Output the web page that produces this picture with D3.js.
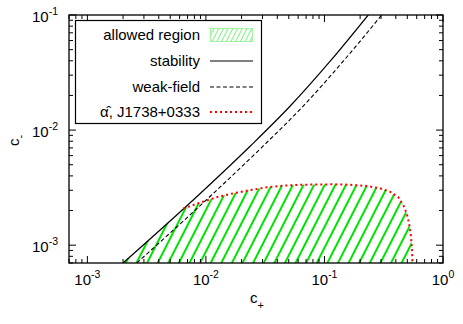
<!DOCTYPE html>
<html>
<head>
<meta charset="utf-8">
<script src="https://cdn.jsdelivr.net/npm/d3@7/dist/d3.min.js"></script>
<style>
  body { margin: 0; background: #fff; }
  svg { display: block; }
  text { font-family: "Liberation Sans", Arial, Helvetica, sans-serif; fill: #000; }
</style>
</head>
<body>
<svg id="chart" width="463" height="324"></svg>
<script>
// stability line
var stabCp = [0.00200, 0.00891, 0.0236, 0.0512, 0.1113, 0.234];
var stabCm = [0.00070, 0.00280, 0.00724, 0.0161, 0.0395, 0.100];

// weak-field line
var weakCp = [0.00261, 0.01148, 0.0303, 0.0659, 0.1434, 0.304];
var weakCm = [0.00070, 0.00280, 0.00724, 0.0161, 0.0395, 0.100];

// alpha-hat J1738+0333 bound
var alphaCp = [0.00644, 0.00891, 0.01233, 0.0170, 0.0236, 0.0326, 0.0450, 0.0622, 0.119, 0.164,
	0.227, 0.294, 0.357, 0.420, 0.462, 0.494, 0.520, 0.537, 0.548, 0.551, 0.552];
var alphaCm = [0.00208, 0.00234, 0.00261, 0.00282, 0.00301, 0.00318, 0.00329, 0.00335, 0.00338, 0.00335,
	0.00327, 0.00312, 0.00292, 0.00261, 0.00223, 0.00189, 0.00150, 0.00119, 0.000908, 0.000743, 0.00070];

var xDomain = [7e-4, 1];
var yDomain = [7e-4, 0.1];
var xMajor = [1e-3, 1e-2, 1e-1, 1];
var xMajorExp = ["-3", "-2", "-1", "0"];
var yMajor = [1e-3, 1e-2, 1e-1];
var yMajorExp = ["-3", "-2", "-1"];

var legendLabels = ["allowed region", "stability", "weak-field", "\u03b1\u0302, J1738+0333"];

var svg = d3.select("#chart");
var pL = 69, pR = 443, pT = 15, pB = 263;

var x = d3.scaleLog().domain(xDomain).range([pL, pR]);
var y = d3.scaleLog().domain(yDomain).range([pB, pT]);

var defs = svg.append("defs");
defs.append("clipPath").attr("id", "plotclip")
	.append("rect")
	.attr("x", pL).attr("y", pT)
	.attr("width", pR - pL).attr("height", pB - pT);

var hatch = defs.append("pattern").attr("id", "hatch")
	.attr("patternUnits", "userSpaceOnUse")
	.attr("width", 9.45).attr("height", 20)
	.attr("patternTransform", "rotate(27)");
hatch.append("line")
	.attr("x1", 4.7).attr("x2", 4.7).attr("y1", -1).attr("y2", 21)
	.style("stroke", "#00e000").style("stroke-width", 2);

var hatchSmall = defs.append("pattern").attr("id", "hatchSmall")
	.attr("patternUnits", "userSpaceOnUse")
	.attr("width", 4.2).attr("height", 20)
	.attr("patternTransform", "rotate(27)");
hatchSmall.append("line")
	.attr("x1", 2).attr("x2", 2).attr("y1", -1).attr("y2", 21)
	.style("stroke", "#7cf07c").style("stroke-width", 1);

function zipPts(a, b) {
	return a.map(function (d, i) { return [d, b[i]]; });
}

var line = d3.line()
	.x(function (d) { return x(d[0]); })
	.y(function (d) { return y(d[1]); });
var smooth = d3.line()
	.x(function (d) { return x(d[0]); })
	.y(function (d) { return y(d[1]); })
	.curve(d3.curveMonotoneX);

// allowed region: under stability line up to the alpha bound, then under alpha curve
var region = [];
stabCp.forEach(function (d, i) {
	if (d < alphaCp[0]) region.push([d, stabCm[i]]);
});
region = region.concat(zipPts(alphaCp, alphaCm));
region.push([alphaCp[alphaCp.length - 1], yDomain[0] * 0.98]);
region.push([stabCp[0], yDomain[0] * 0.98]);

var plot = svg.append("g").attr("clip-path", "url(#plotclip)");

plot.append("path")
	.attr("d", line(region) + "Z")
	.style("fill", "url(#hatch)")
	.style("stroke", "none");

plot.append("path")
	.attr("d", smooth(zipPts(stabCp, stabCm)))
	.style("fill", "none").style("stroke", "#000").style("stroke-width", 1.2);

plot.append("path")
	.attr("d", smooth(zipPts(weakCp, weakCm)))
	.style("fill", "none").style("stroke", "#000").style("stroke-width", 1.1)
	.style("stroke-dasharray", "4,2.5");

plot.append("path")
	.attr("d", line(zipPts(alphaCp, alphaCm)))
	.style("fill", "none").style("stroke", "#ff0000").style("stroke-width", 2)
	.style("stroke-dasharray", "2,3");

// ticks on all four sides, gnuplot style (inward)
var axes = svg.append("g").style("stroke", "#000").style("stroke-width", 1);
x.ticks().forEach(function (t) {
	var major = xMajor.some(function (m) { return Math.abs(m - t) / m < 1e-6; });
	var len = major ? 7 : 4;
	axes.append("line").attr("x1", x(t)).attr("x2", x(t)).attr("y1", pB).attr("y2", pB - len);
	axes.append("line").attr("x1", x(t)).attr("x2", x(t)).attr("y1", pT).attr("y2", pT + len);
});
y.ticks().forEach(function (t) {
	var major = yMajor.some(function (m) { return Math.abs(m - t) / m < 1e-6; });
	var len = major ? 7 : 4;
	axes.append("line").attr("y1", y(t)).attr("y2", y(t)).attr("x1", pL).attr("x2", pL + len);
	axes.append("line").attr("y1", y(t)).attr("y2", y(t)).attr("x1", pR).attr("x2", pR - len);
});

svg.append("rect")
	.attr("x", pL).attr("y", pT)
	.attr("width", pR - pL).attr("height", pB - pT)
	.style("fill", "none").style("stroke", "#000").style("stroke-width", 1.3);

// tick labels
xMajor.forEach(function (t, i) {
	var tx = svg.append("text")
		.attr("x", x(t)).attr("y", pB + 22)
		.style("text-anchor", "middle").style("font-size", "15px");
	tx.append("tspan").text("10");
	tx.append("tspan").attr("dy", -7).style("font-size", "10.5px").text(xMajorExp[i]);
});
yMajor.forEach(function (t, i) {
	var ty = svg.append("text")
		.attr("x", pL - 11).attr("y", y(t) + 6.7)
		.style("text-anchor", "end").style("font-size", "15px");
	ty.append("tspan").text("10");
	ty.append("tspan").attr("dy", -7).style("font-size", "10.5px").text(yMajorExp[i]);
});

// axis labels
var xl = svg.append("text").attr("x", 250).attr("y", 303).style("font-size", "15px");
xl.append("tspan").text("c");
xl.append("tspan").attr("dy", 6).style("font-size", "11px").text("+");

var yl = svg.append("text").attr("transform", "translate(19,146) rotate(-90)").style("font-size", "15px");
yl.append("tspan").text("c");
yl.append("tspan").attr("dy", 5).style("font-size", "11px").text("-");

// legend
var legend = svg.append("g");
legend.append("rect")
	.attr("x", 75.5).attr("y", 20.5).attr("width", 186).attr("height", 103)
	.style("fill", "#fff").style("stroke", "#000").style("stroke-width", 1.2);

var rowY = [35, 61, 87, 112];
legendLabels.forEach(function (d, i) {
	legend.append("text")
		.attr("x", 200).attr("y", rowY[i] + 5)
		.style("text-anchor", "end").style("font-size", "15px")
		.text(d);
});
legend.append("rect")
	.attr("x", 210.5).attr("y", 28.5).attr("width", 42).attr("height", 13)
	.style("fill", "url(#hatchSmall)").style("stroke", "#8ef08e").style("stroke-width", 0.8);
legend.append("line")
	.attr("x1", 210).attr("x2", 253).attr("y1", rowY[1]).attr("y2", rowY[1])
	.style("stroke", "#000").style("stroke-width", 1.2);
legend.append("line")
	.attr("x1", 210).attr("x2", 253).attr("y1", rowY[2]).attr("y2", rowY[2])
	.style("stroke", "#000").style("stroke-width", 1.1).style("stroke-dasharray", "4,2.5");
legend.append("line")
	.attr("x1", 210).attr("x2", 253).attr("y1", rowY[3]).attr("y2", rowY[3])
	.style("stroke", "#ff0000").style("stroke-width", 2).style("stroke-dasharray", "2,3");
</script>
</body>
</html>
